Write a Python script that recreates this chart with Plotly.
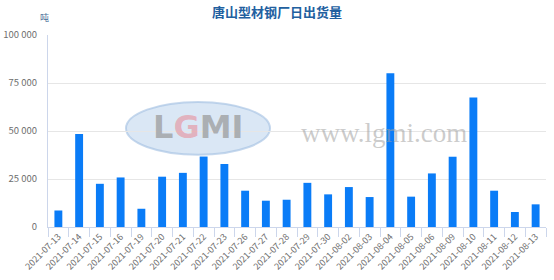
import plotly.graph_objects as go

dates = ["2021-07-13", "2021-07-14", "2021-07-15", "2021-07-16", "2021-07-19",
         "2021-07-20", "2021-07-21", "2021-07-22", "2021-07-23", "2021-07-26",
         "2021-07-27", "2021-07-28", "2021-07-29", "2021-07-30", "2021-08-02",
         "2021-08-03", "2021-08-04", "2021-08-05", "2021-08-06", "2021-08-09",
         "2021-08-10", "2021-08-11", "2021-08-12", "2021-08-13"]
shipments = [8600, 48400, 22500, 25800, 9500, 26200, 28200, 36700, 32800, 18900,
             13700, 14200, 23000, 17000, 20800, 15600, 80100, 15800, 27900, 36600,
             67400, 18900, 7800, 11800]
y_ticks = [0, 25000, 50000, 75000, 100000]

title_text = "唐山型材钢厂日出货量"
unit_text = "吨"

fig = go.Figure()
fig.add_trace(go.Bar(x=dates, y=shipments, marker=dict(color="#0a7cf7", line=dict(width=0)),
                     width=0.38))

font_cjk = "Noto Sans CJK SC, Noto Sans, sans-serif"

fig.update_layout(
    width=554, height=280,
    margin=dict(l=48, r=8, t=35, b=53),
    paper_bgcolor="white", plot_bgcolor="white",
    separators=". ",
    showlegend=False,
    font=dict(family=font_cjk, color="#666666"),
    title=dict(text="<b>" + title_text + "</b>", x=0.5, xanchor="center",
               y=0.955, yanchor="middle",
               font=dict(size=13, color="#22609f", family=font_cjk)),
    xaxis=dict(type="category", tickangle=-45, tickson="boundaries", automargin=False,
               ticks="outside", ticklen=9, tickcolor="#ccd6eb", tickwidth=1,
               showline=True, linecolor="#ccd6eb", linewidth=1,
               showgrid=False, tickfont=dict(size=9, color="#6e6e6e"),
               range=[-0.5, len(dates) - 0.5]),
    yaxis=dict(range=[0, 100000], tickvals=y_ticks, tickformat=",d", automargin=False,
               showgrid=True, gridcolor="#e6e6e6", gridwidth=1,
               showline=True, linecolor="#ccd6eb", linewidth=1,
               zeroline=False, ticks="", ticklabelstandoff=8,
               tickfont=dict(size=9.5, color="#6e6e6e")),
)

# Unit label
fig.add_annotation(text=unit_text, xref="paper", yref="paper", x=-0.008, y=1.09,
                   xanchor="center", yanchor="middle", showarrow=False,
                   font=dict(size=9, color="#4a6f9a", family=font_cjk))

# Watermark logo (ellipse + letters) and site text
fig.add_shape(type="circle", xref="paper", yref="paper",
              x0=(126 - 48) / 498, x1=(270 - 48) / 498,
              y0=(227.3 - 155) / 192.3, y1=(227.3 - 102) / 192.3,
              fillcolor="rgba(150,185,225,0.35)", line=dict(color="rgba(160,190,225,0.6)", width=2),
              layer="below")
fig.add_annotation(text="<b>L<span style='color:rgba(235,120,130,0.7)'>G</span>MI</b>",
                   xref="paper", yref="paper", x=(198 - 48) / 498, y=(227.3 - 127) / 192.3,
                   showarrow=False, xanchor="center", yanchor="middle",
                   font=dict(size=32, color="rgba(150,150,150,0.7)", family="DejaVu Sans"))
fig.add_annotation(text="www.lgmi.com", xref="paper", yref="paper",
                   x=(384 - 48) / 498, y=(227.3 - 133) / 192.3,
                   showarrow=False, xanchor="center", yanchor="middle",
                   font=dict(size=27, color="rgba(160,160,160,0.55)", family="Liberation Serif"))

fig.write_html("out.html")
